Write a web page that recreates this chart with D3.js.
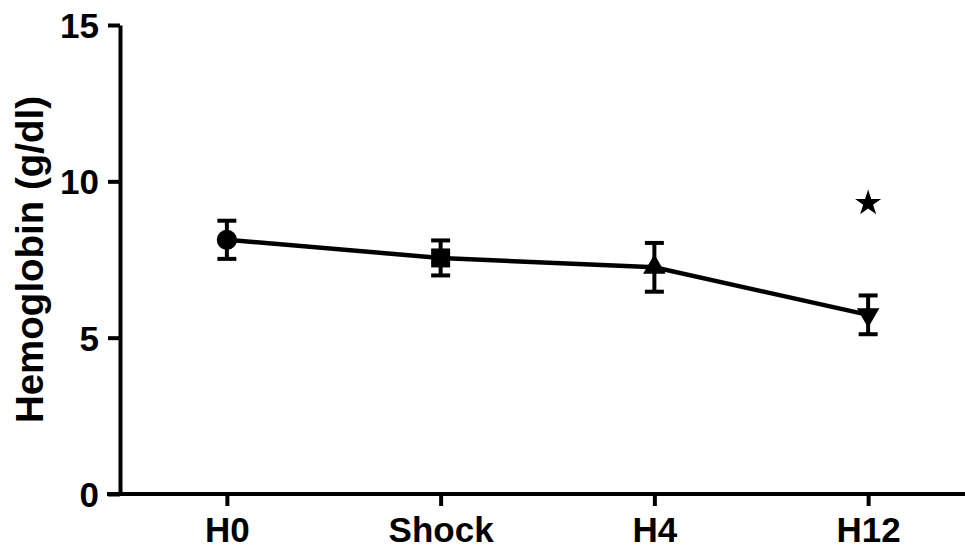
<!DOCTYPE html>
<html>
<head>
<meta charset="utf-8">
<script src="https://cdn.jsdelivr.net/npm/d3@7"></script>
<style>
  html, body { margin: 0; padding: 0; background: #fff; }
  svg { display: block; }
  text { font-family: "Liberation Sans", Arial, sans-serif; font-weight: bold; fill: #000; }
</style>
</head>
<body>
<svg width="965" height="548"></svg>
<script>
// Data
const timepoints = ["H0", "Shock", "H4", "H12"];
const means = [8.13, 7.55, 7.25, 5.73];
const errors = [0.61, 0.56, 0.78, 0.62];
const shapes = ["circle", "square", "triangle", "triangleDown"];
const yTicks = [0, 5, 10, 15];
// significance marker above H12
const starAt = { time: "H12", value: 9.3 };

const svg = d3.select("svg");
const width = 965, height = 548;
const plotLeft = 120, plotTop = 25, plotBottom = 494;

const x = d3.scalePoint()
    .domain(timepoints)
    .range([plotLeft, 975])
    .padding(0.5);

const y = d3.scaleLinear()
    .domain([0, 15])
    .range([plotBottom, plotTop]);

// Axes
const xAxis = svg.append("g")
    .attr("transform", `translate(0,${plotBottom})`)
    .call(d3.axisBottom(x).tickSize(12).tickSizeOuter(0).tickPadding(11));
xAxis.select(".domain").attr("d", `M${plotLeft - 13},0H${width + 5}`);

const yAxis = svg.append("g")
    .attr("transform", `translate(${plotLeft},0)`)
    .call(d3.axisLeft(y).tickValues(yTicks).tickFormat(d3.format("d"))
        .tickSize(12).tickSizeOuter(0).tickPadding(9));

svg.selectAll(".domain, .tick line")
    .attr("stroke", "#000")
    .attr("stroke-width", 4);
svg.selectAll(".tick text")
    .style("font-size", "35px");
yAxis.selectAll(".tick text").attr("dy", "0.36em");

// Y label
svg.append("text")
    .attr("transform", `translate(43,${(plotTop + plotBottom) / 2}) rotate(-90)`)
    .attr("text-anchor", "middle")
    .style("font-size", "38.5px")
    .text("Hemoglobin (g/dl)");

const pts = timepoints.map((t, i) => ({ t, m: means[i], e: errors[i], s: shapes[i] }));

// Error bars
const eb = svg.append("g").attr("stroke", "#000").attr("stroke-width", 4);
pts.forEach(d => {
    const cx = x(d.t);
    eb.append("line").attr("x1", cx).attr("x2", cx)
        .attr("y1", y(d.m - d.e)).attr("y2", y(d.m + d.e));
    [d.m - d.e, d.m + d.e].forEach(v => {
        eb.append("line").attr("x1", cx - 9.5).attr("x2", cx + 9.5)
            .attr("y1", y(v)).attr("y2", y(v));
    });
});

// Line
svg.append("path")
    .datum(pts)
    .attr("fill", "none")
    .attr("stroke", "#000")
    .attr("stroke-width", 4.5)
    .attr("d", d3.line().x(d => x(d.t)).y(d => y(d.m)));

// Markers
const symbolFor = {
    circle: d3.symbol(d3.symbolCircle, 320),
    square: d3.symbol(d3.symbolSquare, 360),
    triangle: d3.symbol(d3.symbolTriangle, 220)
};
pts.forEach(d => {
    const g = svg.append("path")
        .attr("fill", "#000")
        .attr("transform", `translate(${x(d.t)},${y(d.m)})` + (d.s === "triangleDown" ? " rotate(180)" : ""));
    g.attr("d", (d.s === "triangleDown" ? symbolFor.triangle : symbolFor[d.s])());
});

// Star
svg.append("path")
    .attr("transform", `translate(${x(starAt.time)},${y(starAt.value)})`)
    .attr("fill", "#000")
    .attr("d", d3.symbol(d3.symbolStar, 210)());
</script>
</body>
</html>
